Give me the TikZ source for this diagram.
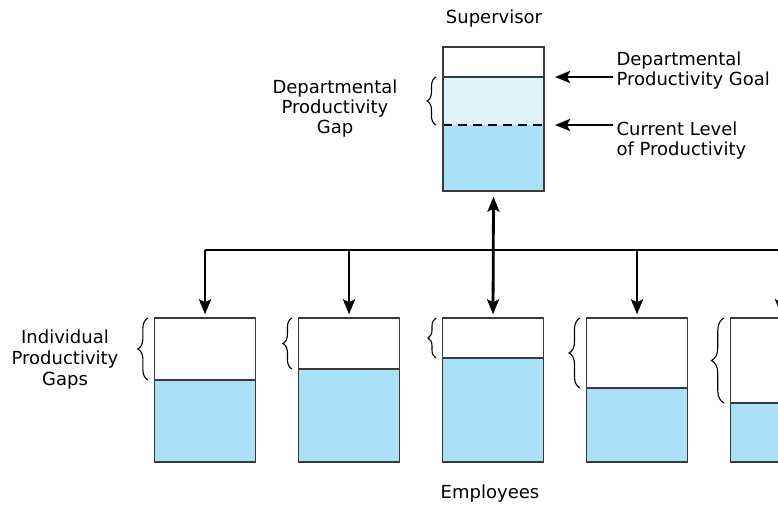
\documentclass[tikz,border=0pt]{standalone}
\usepackage{fontspec}
\setmainfont{DejaVu Sans}
\usetikzlibrary{positioning,arrows.meta,decorations.pathreplacing}

\definecolor{levelblue}{HTML}{AADFF8}
\definecolor{gapblue}{HTML}{DFF3FB}
\definecolor{edge}{HTML}{3A3A3A}

\begin{document}
\begin{tikzpicture}[x=1pt,y=-1pt,font=\fontsize{18}{20}\selectfont]
\tikzstyle{tank} = [draw=edge,line width=1.4pt,minimum width=101pt,minimum height=144pt,inner sep=0pt]
\tikzstyle{lvl} = [fill=levelblue]
\tikzstyle{link} = [line width=2.8pt,-{Stealth[length=15pt,width=12pt,inset=3pt]}]
\tikzstyle{gap} = [decorate,line width=1.1pt]
\path[use as bounding box,clip] (0,0) rectangle (778,508);

% supervisor
\fill[gapblue] (443,77) rectangle (544,125);
\fill[lvl] (443,125) rectangle (544,191);
\draw[edge,line width=1.2pt] (443,77) -- (544,77);
\draw[black,line width=1.2pt,dash pattern=on 9pt off 6pt] (443,125) -- (544,125);
\node[tank] (sup) at (493.5,119) {};
\node (suptxt) at (494,19) {Supervisor};
\draw[gap,decoration={brace,amplitude=9pt}] (436,125) -- (436,77);
\node[align=center] (gaptxt) at (335,109) {Departmental\\Productivity\\Gap};
\coordinate (goal) at (555,77);
\coordinate (cur) at (555,125);
\node[anchor=west,align=left] (goaltxt) at (613,71) {Departmental\\Productivity Goal};
\node[anchor=west,align=left] (curtxt) at (613,141) {Current Level\\of Productivity};
\draw[link] (goaltxt.west |- goal) -- (goal);
\draw[link] (curtxt.west |- cur) -- (cur);

% employees
\foreach \i/\lev in {1/380,2/369,3/358,4/388,5/403} {
  \pgfmathsetmacro\xc{205+144*(\i-1)}
  \pgfmathsetmacro\amp{4+(\lev-318)/10}
  \fill[lvl] (\xc-50.5,\lev) rectangle (\xc+50.5,462);
  \draw[edge,line width=1.2pt] (\xc-50.5,\lev) -- (\xc+50.5,\lev);
  \node[tank] (e\i) at (\xc,390) {};
  \draw[gap,decoration={brace,amplitude=\amp pt}] (\xc-57,\lev) -- (\xc-57,318);
}
\node[align=center,font=\fontsize{18}{21}\selectfont] (indtxt) at (65,360) {Individual\\Productivity\\Gaps};
\node (emptxt) at (490,494) {Employees};

\coordinate (bus) at (493.5,250);
\draw[link,-] (e1.north |- bus) -- (e5.north |- bus);
\foreach \i in {1,2,4,5}
  \draw[link] (e\i.north |- bus) -- ([yshift=3pt]e\i.north);
\draw[link,{Stealth[length=15pt,width=12pt,inset=3pt]}-{Stealth[length=15pt,width=12pt,inset=3pt]}] ([yshift=-5pt]sup.south) -- ([yshift=3pt]e3.north);
\end{tikzpicture}
\end{document}
